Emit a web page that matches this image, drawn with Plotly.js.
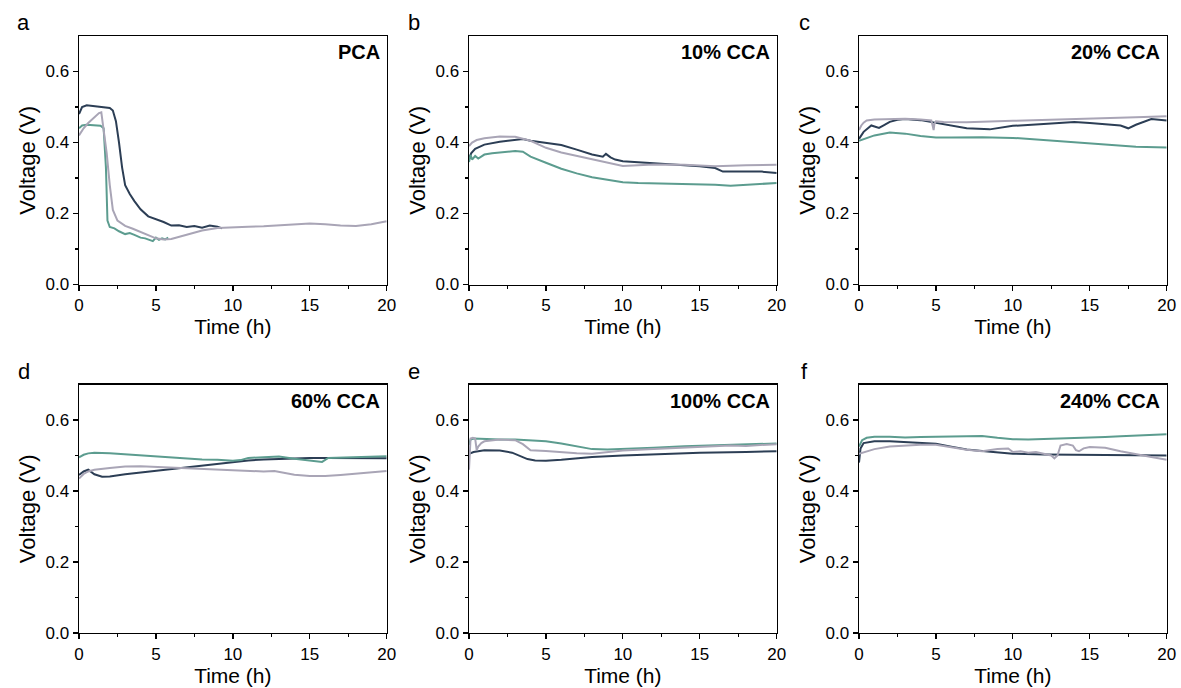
<!DOCTYPE html>
<html>
<head>
<meta charset="utf-8">
<script src="https://cdn.plot.ly/plotly-3.0.1.min.js"></script>
<style>html,body{margin:0;padding:0;background:#fff}#chart{width:1181px;height:688px}</style>
</head>
<body>
<div id="chart"></div>
<script>
// ---------- data ----------
const panelLetters = ["a", "b", "c", "d", "e", "f"];
const panelLabels = ["PCA", "10% CCA", "20% CCA", "60% CCA", "100% CCA", "240% CCA"];
const seriesNames = ["Cell 1", "Cell 2", "Cell 3"];

// Panel a: PCA
const a_navy_t = [0, 0.2, 0.5, 1, 1.5, 2, 2.2, 2.4, 2.6, 2.8, 3.0, 3.3, 3.6, 4, 4.5, 5, 5.5, 6, 6.5, 7, 7.5, 8, 8.5, 9, 9.3];
const a_navy_v = [0.48, 0.50, 0.505, 0.503, 0.501, 0.497, 0.49, 0.46, 0.40, 0.33, 0.28, 0.255, 0.235, 0.212, 0.192, 0.185, 0.176, 0.166, 0.167, 0.162, 0.165, 0.16, 0.166, 0.163, 0.158];
const a_teal_t = [0, 0.2, 0.5, 1, 1.4, 1.6, 1.75, 1.85, 2.0, 2.3, 2.6, 3.0, 3.3, 3.6, 4.0, 4.3, 4.6, 4.8, 5.0, 5.2, 5.4, 5.6, 5.8];
const a_teal_v = [0.44, 0.448, 0.45, 0.449, 0.447, 0.44, 0.33, 0.18, 0.162, 0.158, 0.15, 0.142, 0.145, 0.14, 0.132, 0.13, 0.125, 0.122, 0.132, 0.126, 0.13, 0.127, 0.132];
const a_gray_t = [0, 0.3, 0.6, 1.0, 1.3, 1.45, 1.6, 1.8, 2.0, 2.2, 2.5, 3, 3.5, 4, 4.5, 5, 5.5, 6, 7, 8, 9, 10, 11, 12, 13, 14, 15, 16, 17, 18, 19, 20];
const a_gray_v = [0.42, 0.44, 0.455, 0.47, 0.483, 0.485, 0.44, 0.37, 0.28, 0.21, 0.18, 0.165, 0.157, 0.148, 0.137, 0.13, 0.127, 0.128, 0.14, 0.152, 0.159, 0.162, 0.163, 0.164, 0.166, 0.17, 0.172, 0.17, 0.166, 0.165, 0.17, 0.178];

// Panel b: 10% CCA
const b_navy_t = [0, 0.15, 0.4, 1, 2, 3, 3.5, 4, 5, 6, 7, 8, 8.7, 8.9, 9.2, 9.5, 10, 11, 12, 13, 14, 15, 16, 16.5, 17, 18, 19, 20];
const b_navy_v = [0.355, 0.37, 0.382, 0.394, 0.402, 0.408, 0.41, 0.405, 0.398, 0.393, 0.38, 0.366, 0.36, 0.368, 0.358, 0.352, 0.347, 0.344, 0.342, 0.34, 0.337, 0.333, 0.328, 0.318, 0.318, 0.317, 0.318, 0.314];
const b_teal_t = [0, 0.1, 0.2, 0.4, 0.6, 1, 1.5, 2, 2.5, 3, 3.5, 4, 5, 6, 7, 8, 9, 10, 11, 12, 13, 14, 15, 16, 17, 18, 19, 20];
const b_teal_v = [0.345, 0.365, 0.352, 0.362, 0.355, 0.366, 0.37, 0.372, 0.374, 0.376, 0.374, 0.36, 0.343, 0.326, 0.313, 0.302, 0.295, 0.288, 0.286, 0.285, 0.286, 0.284, 0.283, 0.281, 0.278, 0.28, 0.283, 0.286];
const b_gray_t = [0, 0.2, 0.5, 1, 2, 3, 4, 5, 6, 7, 8, 9, 10, 11, 12, 14, 16, 18, 20];
const b_gray_v = [0.39, 0.4, 0.407, 0.412, 0.417, 0.416, 0.405, 0.385, 0.372, 0.362, 0.352, 0.342, 0.334, 0.336, 0.338, 0.337, 0.333, 0.336, 0.337];

// Panel c: 20% CCA
const c_navy_t = [0, 0.3, 0.8, 1.3, 1.6, 2, 2.5, 3, 4, 5, 6, 7, 8.5, 10, 12, 14, 15, 16, 17, 17.5, 18, 19, 20];
const c_navy_v = [0.41, 0.43, 0.448, 0.441, 0.448, 0.458, 0.464, 0.466, 0.463, 0.455, 0.447, 0.44, 0.437, 0.447, 0.452, 0.458, 0.455, 0.452, 0.448, 0.44, 0.45, 0.466, 0.462];
const c_teal_t = [0, 0.5, 1, 2, 3, 4, 5, 6, 8, 10, 12, 14, 16, 18, 20];
const c_teal_v = [0.405, 0.413, 0.42, 0.428, 0.425, 0.418, 0.414, 0.414, 0.415, 0.413, 0.407, 0.4, 0.393, 0.388, 0.386];
const c_gray_t = [0, 0.15, 0.3, 0.5, 1, 2, 3, 4, 4.7, 4.8, 4.85, 4.9, 5.0, 5.5, 7, 10, 12, 15, 18, 20];
const c_gray_v = [0.435, 0.448, 0.456, 0.462, 0.465, 0.466, 0.467, 0.465, 0.462, 0.445, 0.435, 0.452, 0.46, 0.458, 0.457, 0.461, 0.463, 0.467, 0.471, 0.474];

// Panel d: 60% CCA
const d_navy_t = [0, 0.3, 0.6, 1, 1.5, 2, 3, 4, 5, 6, 7, 8, 9, 10, 11, 12, 13, 14, 15, 16, 17, 18, 19, 20];
const d_navy_v = [0.445, 0.455, 0.46, 0.447, 0.44, 0.441, 0.447, 0.452, 0.456, 0.461, 0.466, 0.471, 0.476, 0.481, 0.486, 0.489, 0.491, 0.492, 0.493, 0.493, 0.493, 0.493, 0.492, 0.492];
const d_teal_t = [0, 0.3, 0.6, 1, 2, 3, 4, 5, 6, 7, 8, 9, 10, 10.5, 11, 12, 13, 14, 15, 15.5, 15.8, 16.2, 17, 18, 19, 20];
const d_teal_v = [0.495, 0.502, 0.506, 0.508, 0.506, 0.503, 0.5, 0.497, 0.493, 0.49, 0.489, 0.488, 0.485, 0.487, 0.493, 0.495, 0.497, 0.491, 0.487, 0.484, 0.482, 0.493, 0.494, 0.495, 0.496, 0.498];
const d_gray_t = [0, 0.3, 0.6, 1, 2, 3, 4, 5, 6, 7, 8, 9, 10, 11, 12, 12.7, 13.5, 14, 15, 16, 17, 18, 19, 20];
const d_gray_v = [0.435, 0.448, 0.455, 0.46, 0.465, 0.469, 0.47, 0.468, 0.466, 0.464, 0.462, 0.46, 0.458, 0.456, 0.455, 0.456, 0.45, 0.446, 0.442, 0.442, 0.445, 0.448, 0.452, 0.456];

// Panel e: 100% CCA
const e_navy_t = [0, 0.3, 1, 2, 2.8, 3.3, 3.8, 4.3, 5, 6, 7, 8, 10, 12, 15, 18, 20];
const e_navy_v = [0.505, 0.51, 0.515, 0.514, 0.508, 0.498, 0.49, 0.486, 0.485, 0.488, 0.492, 0.496, 0.5, 0.504, 0.508, 0.51, 0.512];
const e_teal_t = [0, 0.1, 0.3, 1, 2, 3, 4, 5, 6, 7, 8, 9, 10, 12, 14, 16, 18, 20];
const e_teal_v = [0.53, 0.545, 0.548, 0.546, 0.545, 0.545, 0.543, 0.54, 0.534, 0.525, 0.518, 0.517, 0.518, 0.522, 0.526, 0.529, 0.531, 0.534];
const e_gray_t = [0, 0.05, 0.1, 0.25, 0.4, 0.5, 0.6, 0.8, 1, 2, 3, 3.5, 4, 5, 6, 7, 8, 9, 10, 12, 14, 16, 17, 18, 19, 20];
const e_gray_v = [0.46, 0.52, 0.548, 0.55, 0.548, 0.515, 0.525, 0.535, 0.54, 0.545, 0.543, 0.532, 0.515, 0.513, 0.509, 0.506, 0.505, 0.51, 0.514, 0.518, 0.522, 0.526, 0.528, 0.527, 0.53, 0.532];

// Panel f: 240% CCA
const f_navy_t = [0, 0.1, 0.3, 1, 2, 3, 4, 4.5, 5, 6, 7, 8, 9, 10, 12, 15, 18, 20];
const f_navy_v = [0.48, 0.52, 0.535, 0.54, 0.54, 0.538, 0.537, 0.536, 0.533, 0.525, 0.517, 0.513, 0.508, 0.505, 0.503, 0.502, 0.501, 0.5];
const f_teal_t = [0, 0.2, 0.5, 1, 2, 3, 4, 5, 6, 7, 8, 9, 10, 11, 12, 13, 14, 15, 16, 17, 18, 19, 20];
const f_teal_v = [0.525, 0.543, 0.55, 0.553, 0.553, 0.551, 0.552, 0.553, 0.554, 0.555, 0.555, 0.55, 0.546, 0.545, 0.546, 0.547, 0.549, 0.55, 0.552, 0.554, 0.556, 0.558, 0.56];
const f_gray_t = [0, 0.5, 1, 2, 3, 4, 5, 6, 7, 8, 9, 9.7, 10, 10.5, 11, 11.5, 12, 12.5, 12.7, 12.9, 13.1, 13.5, 13.9, 14.1, 14.3, 14.6, 15, 16, 17, 18, 19, 20];
const f_gray_v = [0.505, 0.512, 0.518, 0.525, 0.528, 0.53, 0.53, 0.523, 0.516, 0.512, 0.518, 0.52, 0.51, 0.512, 0.508, 0.51, 0.505, 0.5, 0.492, 0.5, 0.528, 0.532, 0.528, 0.515, 0.512, 0.52, 0.524, 0.522, 0.512, 0.503, 0.496, 0.488];

const xTickVals = [0, 5, 10, 15, 20];
const yTickVals = [0, 0.2, 0.4, 0.6];
const xTitle = "Time (h)";
const yTitle = "Voltage (V)";

// ---------- styling ----------
const NAVY = "#2c3e55", TEAL = "#5c9c8f", GRAY = "#a9a5b6";
const FONT = "Liberation Sans, Arial, sans-serif";
const W = 1181, H = 688;

const panels = [
  [[a_navy_t, a_navy_v], [a_teal_t, a_teal_v], [a_gray_t, a_gray_v]],
  [[b_navy_t, b_navy_v], [b_teal_t, b_teal_v], [b_gray_t, b_gray_v]],
  [[c_navy_t, c_navy_v], [c_teal_t, c_teal_v], [c_gray_t, c_gray_v]],
  [[d_navy_t, d_navy_v], [d_teal_t, d_teal_v], [d_gray_t, d_gray_v]],
  [[e_navy_t, e_navy_v], [e_teal_t, e_teal_v], [e_gray_t, e_gray_v]],
  [[f_navy_t, f_navy_v], [f_teal_t, f_teal_v], [f_gray_t, f_gray_v]]
];
const colors = [NAVY, TEAL, GRAY];

// pixel boxes of the plot areas
const colL = [79, 469, 859];
const plotW = 307.7;
const rowTop = [36, 384.5];
const plotH = 248.5;

const data = [];
const layout = {
  width: W, height: H,
  margin: {l: 0, r: 0, t: 0, b: 0},
  paper_bgcolor: "#fff", plot_bgcolor: "#fff",
  showlegend: false,
  font: {family: FONT, color: "#000"},
  annotations: []
};

panels.forEach((series, i) => {
  const n = i + 1;
  const xa = n === 1 ? "x" : "x" + n;
  const ya = n === 1 ? "y" : "y" + n;
  series.forEach((s, k) => {
    data.push({
      type: "scatter", mode: "lines",
      x: s[0], y: s[1],
      name: seriesNames[k],
      xaxis: xa, yaxis: ya,
      line: {color: colors[k], width: 2},
      hoverinfo: "skip"
    });
  });
  const col = i % 3, row = Math.floor(i / 3);
  const x0 = colL[col] / W, x1 = (colL[col] + plotW) / W;
  const yTop = 1 - rowTop[row] / H, yBot = 1 - (rowTop[row] + plotH) / H;
  const common = {
    showline: true, mirror: true, linecolor: "#000", linewidth: 1.4,
    ticks: "outside", ticklen: 5, tickwidth: 1.3, tickcolor: "#000",
    showgrid: false, zeroline: false,
    tickfont: {family: FONT, size: 17, color: "#000"},
    fixedrange: true
  };
  layout["xaxis" + (n === 1 ? "" : n)] = Object.assign({}, common, {
    domain: [x0, x1], anchor: ya, range: [0, 20],
    tickvals: xTickVals, ticktext: xTickVals.map(String),
    minor: {tickvals: [2.5, 7.5, 12.5, 17.5], ticks: "outside", ticklen: 3, tickwidth: 1.2, tickcolor: "#000"},
    title: {text: xTitle, font: {family: FONT, size: 21, color: "#000"}, standoff: 0}
  });
  layout["yaxis" + (n === 1 ? "" : n)] = Object.assign({}, common, {
    domain: [yBot, yTop], anchor: xa, range: [0, 0.7],
    tickvals: yTickVals, ticktext: yTickVals.map(v => v.toFixed(1)),
    minor: {tickvals: [0.1, 0.3, 0.5], ticks: "outside", ticklen: 3, tickwidth: 1.2, tickcolor: "#000"},
    title: {text: yTitle, font: {family: FONT, size: 22, color: "#000"}, standoff: 4}
  });
  // panel letter
  layout.annotations.push({
    text: panelLetters[i], xref: "paper", yref: "paper",
    x: (colL[col] - 55) / W, y: 1 - (rowTop[row] - 13) / H,
    xanchor: "center", yanchor: "middle", showarrow: false,
    font: {family: FONT, size: 22, color: "#000"}
  });
  // condition label
  layout.annotations.push({
    text: "<b>" + panelLabels[i] + "</b>", xref: "paper", yref: "paper",
    x: (colL[col] + plotW - 5) / W, y: 1 - (rowTop[row] + 16) / H,
    xanchor: "right", yanchor: "middle", showarrow: false,
    font: {family: FONT, size: 20, color: "#000"}
  });
});

Plotly.newPlot("chart", data, layout, {displayModeBar: false, staticPlot: true});
</script>
</body>
</html>
